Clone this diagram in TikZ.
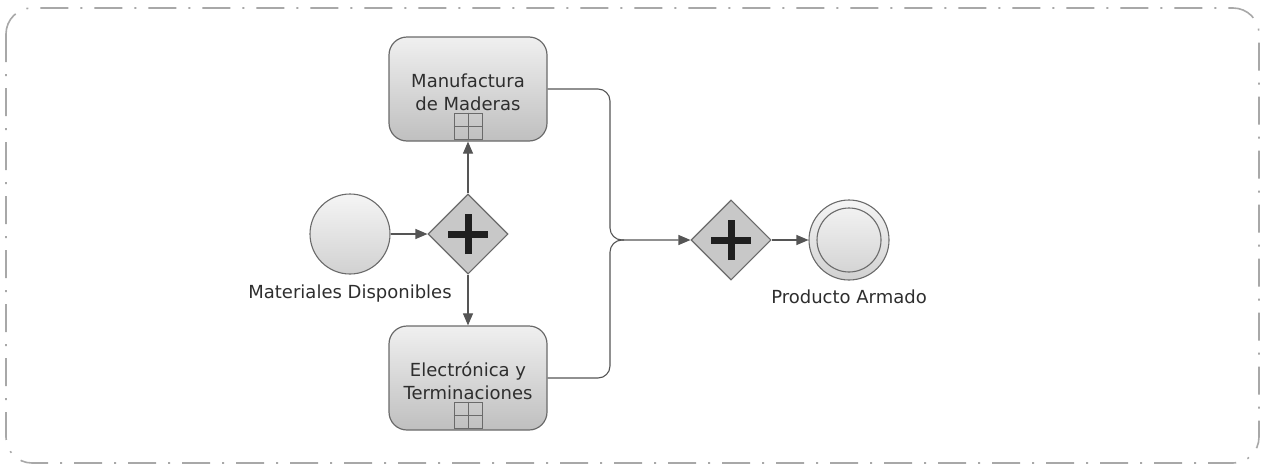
\documentclass[tikz,border=0pt]{standalone}
\usepackage{fontspec}
\setmainfont{DejaVu Sans}
\usetikzlibrary{shapes.geometric,arrows.meta}
\definecolor{linec}{HTML}{555555}
\definecolor{bordc}{HTML}{6A6A6A}
\definecolor{textc}{HTML}{2E2E2E}
\definecolor{gwfill}{HTML}{C8C8C8}
\definecolor{framec}{HTML}{A8A8A8}
\tikzset{
  task/.style={draw=bordc, line width=1.2pt, rounded corners=18pt, minimum width=158pt, minimum height=104pt,
    top color=black!6, bottom color=black!25, inner sep=0pt},
  tasktext/.style={text=textc, font=\fontsize{18}{23}\selectfont, align=center, inner sep=0pt},
  lbl/.style={text=textc, font=\fontsize{18}{22}\selectfont, inner sep=0pt},
  gw/.style={diamond, draw=bordc, line width=1.1pt, fill=gwfill, minimum width=80pt, minimum height=80pt, inner sep=0pt, aspect=1},
  evt/.style={circle, draw=bordc, line width=1.1pt, minimum size=80pt, inner sep=0pt, top color=black!4, bottom color=black!18},
  conn/.style={draw=linec, line width=1.1pt},
  arr/.style={conn, -{Triangle[length=12pt,width=10pt]}},
  plusbar/.style={draw=black!88, line width=7pt},
  marker/.style={draw=bordc, line width=1pt}
}
\begin{document}
\begin{tikzpicture}[x=1pt,y=-1pt]
\useasboundingbox (0,0) rectangle (1265,466);
% frame
\draw[framec, line width=1.6pt, rounded corners=26pt, dash pattern=on 28pt off 12pt on 2pt off 12pt]
  (6,8) rectangle (1259,463);
% tasks
\node[task] (t1) at (468,89) {};
\node[tasktext] (t1t) at (468,92) {Manufactura\\de Maderas};
\node[marker, minimum width=28pt, minimum height=26pt, inner sep=0pt] (t1m) at (468,126) {};
\draw[marker] (t1m.north) -- (t1m.south) (t1m.west) -- (t1m.east);
\node[task] (t2) at (468,378) {};
\node[tasktext] (t2t) at (468,381) {Electrónica y\\Terminaciones};
\node[marker, minimum width=28pt, minimum height=26pt, inner sep=0pt] (t2m) at (468,415) {};
\draw[marker] (t2m.north) -- (t2m.south) (t2m.west) -- (t2m.east);
% start event
\node[evt] (s) at (350,234) {};
\node[lbl] (sl) at (350,294) {Materiales Disponibles};
% gateways
\node[gw] (g1) at (468,234) {};
\draw[plusbar] ([xshift=-20pt]g1.center) -- ([xshift=20pt]g1.center) ([yshift=-20pt]g1.center) -- ([yshift=20pt]g1.center);
\node[gw] (g2) at (731,240) {};
\draw[plusbar] ([xshift=-20pt]g2.center) -- ([xshift=20pt]g2.center) ([yshift=-20pt]g2.center) -- ([yshift=20pt]g2.center);
% end event
\node[evt, line width=1.1pt] (e) at (849,240) {};
\node[circle, draw=bordc, line width=1.1pt, minimum size=64pt, inner sep=0pt] (ei) at (849,240) {};
\node[lbl] (el) at (849,297) {Producto Armado};
% connectors
\coordinate (m) at (610,240);
\draw[arr] (s) -- (g1);
\draw[arr] (g1.north) -- (t1.south);
\draw[arr] (g1.south) -- (t2.north);
\draw[arr, rounded corners=12pt] (t1.east) -| (m) -- (g2.west);
\draw[conn, rounded corners=12pt] (t2.east) -| (m) -- ([xshift=14pt]m);
\draw[arr] (g2.east) -- (e.west);
\end{tikzpicture}
\end{document}
